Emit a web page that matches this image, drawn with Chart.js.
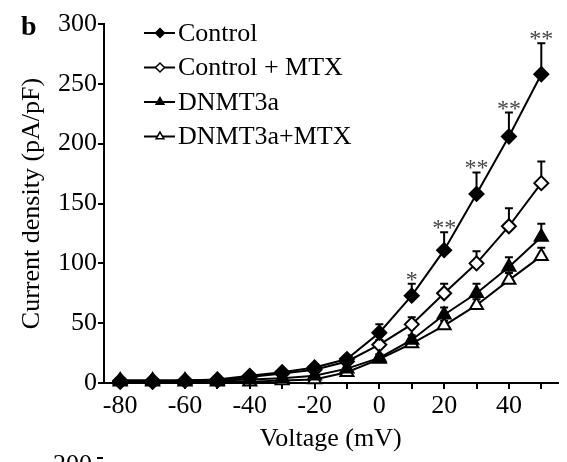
<!DOCTYPE html>
<html>
<head>
<meta charset="utf-8">
<script src="https://cdn.jsdelivr.net/npm/chart.js@4/dist/chart.umd.min.js"></script>
<style>
  html, body { margin: 0; padding: 0; background: #fff; }
  #box { width: 567px; height: 462px; position: relative; }
</style>
</head>
<body>
<div id="box"><canvas id="grafico"></canvas></div>
<script>
// dati
var voltaggi = [-80, -70, -60, -50, -40, -30, -20, -10, 0, 10, 20, 30, 40, 50];
var control = [2, 2, 2, 3, 6, 9, 13, 20, 42, 73, 111, 158, 206, 258];
var controlErr = [1, 1, 1, 1, 1, 2, 2, 3, 7, 10, 15, 18, 20, 26];
var controlMtx = [1, 1, 2, 2, 5, 8, 11, 18, 32, 49, 75, 100, 131, 167];
var controlMtxErr = [1, 1, 1, 1, 1, 1, 2, 3, 4, 6, 8, 10, 15, 18];
var dnmt = [2, 2, 2, 2, 3, 4, 6, 12, 21, 36, 57, 75, 97, 122];
var dnmtErr = [1, 1, 1, 1, 1, 1, 1, 2, 3, 4, 6, 8, 8, 11];
var dnmtMtx = [1, 1, 1, 1, 1, 2, 3, 9, 20, 33, 48, 65, 86, 106];
var dnmtMtxErr = [0, 0, 0, 0, 0, 1, 1, 2, 2, 3, 4, 5, 6, 7];
var asterischi = ['', '', '', '', '', '', '', '', '', '*', '**', '**', '**', '**'];
var etichette = ['Control', 'Control + MTX', 'DNMT3a', 'DNMT3a+MTX'];
var tickX = [-80, -70, -60, -50, -40, -30, -20, -10, 0, 10, 20, 30, 40, 50];

var serif = "'Liberation Serif', 'Times New Roman', serif";

function punti (valori) {
    var out = [];
    for (var i = 0; i < voltaggi.length; i++) {
        out.push({x: voltaggi[i], y: valori[i]});
    }
    return out;
}

function serie (label, valori, errori, stile, pieno, ordine) {
    return {
        label: label,
        data: punti(valori),
        errori: errori,
        order: ordine,
        borderColor: '#000',
        borderWidth: 2,
        backgroundColor: pieno ? '#000' : '#fff',
        pointStyle: stile,
        pointRadius: stile === 'triangle' ? 7.5 : 7,
        pointBorderWidth: 2,
        pointBorderColor: '#000',
        pointBackgroundColor: pieno ? '#000' : '#fff',
        tension: 0,
        clip: false
    };
}

// barre di errore (solo in alto) e asterischi
var pluginErrori = {
    id: 'errori',
    beforeDatasetsDraw: function (chart) {
        var ctx = chart.ctx;
        var sx = chart.scales.x, sy = chart.scales.y;
        ctx.save();
        ctx.strokeStyle = '#000';
        ctx.lineWidth = 2;
        chart.data.datasets.forEach(function (ds) {
            for (var i = 0; i < ds.data.length; i++) {
                if (!ds.errori[i]) continue;
                var x = sx.getPixelForValue(ds.data[i].x);
                var y0 = sy.getPixelForValue(ds.data[i].y);
                var y1 = sy.getPixelForValue(ds.data[i].y + ds.errori[i]);
                ctx.beginPath();
                ctx.moveTo(x, y0);
                ctx.lineTo(x, y1);
                ctx.moveTo(x - 4, y1);
                ctx.lineTo(x + 4, y1);
                ctx.stroke();
            }
        });
        ctx.restore();
    },
    afterDatasetsDraw: function (chart) {
        var ctx = chart.ctx;
        var sx = chart.scales.x, sy = chart.scales.y;
        ctx.save();
        ctx.fillStyle = '#444';
        ctx.font = '24px ' + serif;
        ctx.textAlign = 'center';
        ctx.textBaseline = 'alphabetic';
        for (var i = 0; i < voltaggi.length; i++) {
            if (!asterischi[i]) continue;
            var x = sx.getPixelForValue(voltaggi[i]);
            var y = sy.getPixelForValue(control[i] + controlErr[i]);
            ctx.fillText(asterischi[i], x, y + 3);
        }
        ctx.restore();
    }
};

// legenda con linea e simbolo, lettera del pannello
var pluginLegenda = {
    id: 'legenda',
    afterDraw: function (chart) {
        var ctx = chart.ctx;
        var area = chart.chartArea;
        ctx.save();
        chart.data.datasets.forEach(function (ds, i) {
            var y = area.top + 9 + i * 34.5;
            var x = area.left + 40;
            ctx.strokeStyle = '#000';
            ctx.lineWidth = 2;
            ctx.beginPath();
            ctx.moveTo(x, y);
            ctx.lineTo(x + 31, y);
            ctx.stroke();
            ctx.fillStyle = ds.pointBackgroundColor;
            ctx.strokeStyle = '#000';
            ctx.lineWidth = 1.5;
            Chart.helpers.drawPoint(ctx, {
                pointStyle: ds.pointStyle,
                radius: 4.5,
                rotation: 0,
                borderWidth: 1.5
            }, x + 16, y);
            ctx.fillStyle = '#000';
            ctx.font = '26px ' + serif;
            ctx.textAlign = 'left';
            ctx.textBaseline = 'middle';
            ctx.fillText(ds.label, x + 34, y + 1);
        });
        ctx.font = 'bold 28px ' + serif;
        ctx.textAlign = 'left';
        ctx.textBaseline = 'alphabetic';
        ctx.fillText('b', 21, 35);
        // pezzo del pannello sotto
        ctx.font = '26px ' + serif;
        ctx.textAlign = 'right';
        ctx.textBaseline = 'top';
        ctx.fillText('200', 92, 452);
        ctx.lineWidth = 2;
        ctx.beginPath();
        ctx.moveTo(97, 458);
        ctx.lineTo(103, 458);
        ctx.stroke();
        ctx.restore();
    }
};

var datasets = [
    serie(etichette[0], control, controlErr, 'rectRot', true, 1),
    serie(etichette[1], controlMtx, controlMtxErr, 'rectRot', false, 2),
    serie(etichette[2], dnmt, dnmtErr, 'triangle', true, 0),
    serie(etichette[3], dnmtMtx, dnmtMtxErr, 'triangle', false, 3)
];

var ctx = document.getElementById('grafico');
var chart = new Chart(ctx, {
    type: 'line',
    data: { datasets: datasets },
    plugins: [pluginErrori, pluginLegenda],
    options: {
        responsive: true,
        maintainAspectRatio: false,
        animation: false,
        layout: { padding: { top: 24, right: 4, left: 0, bottom: 0 } },
        plugins: {
            legend: { display: false },
            tooltip: { enabled: false }
        },
        scales: {
            x: {
                type: 'linear',
                min: -85,
                max: 55,
                afterFit: function (s) { s.height = 79; },
                afterBuildTicks: function (s) {
                    s.ticks = tickX.map(function (v) { return {value: v}; });
                },
                ticks: {
                    autoSkip: false,
                    maxRotation: 0,
                    color: '#000',
                    padding: 2,
                    font: { family: serif, size: 26 },
                    callback: function (v) {
                        return (v % 20 === 0 && v <= 40) ? String(v) : '';
                    }
                },
                grid: {
                    drawOnChartArea: false,
                    drawTicks: true,
                    tickLength: 6,
                    color: '#000',
                    lineWidth: 2
                },
                border: { display: true, color: '#000', width: 2 },
                title: {
                    display: true,
                    text: 'Voltage (mV)',
                    color: '#000',
                    font: { family: serif, size: 26 },
                    padding: { top: 0, bottom: 7 }
                }
            },
            y: {
                min: 0,
                max: 300,
                afterFit: function (s) { s.width = 104; },
                ticks: {
                    stepSize: 50,
                    color: '#000',
                    padding: 1,
                    font: { family: serif, size: 26 }
                },
                grid: {
                    drawOnChartArea: false,
                    drawTicks: true,
                    tickLength: 6,
                    color: '#000',
                    lineWidth: 2
                },
                border: { display: true, color: '#000', width: 2 },
                title: {
                    display: true,
                    text: 'Current density (pA/pF)',
                    color: '#000',
                    font: { family: serif, size: 26 },
                    padding: { top: 17, bottom: 0 }
                }
            }
        }
    }
});
</script>
</body>
</html>
